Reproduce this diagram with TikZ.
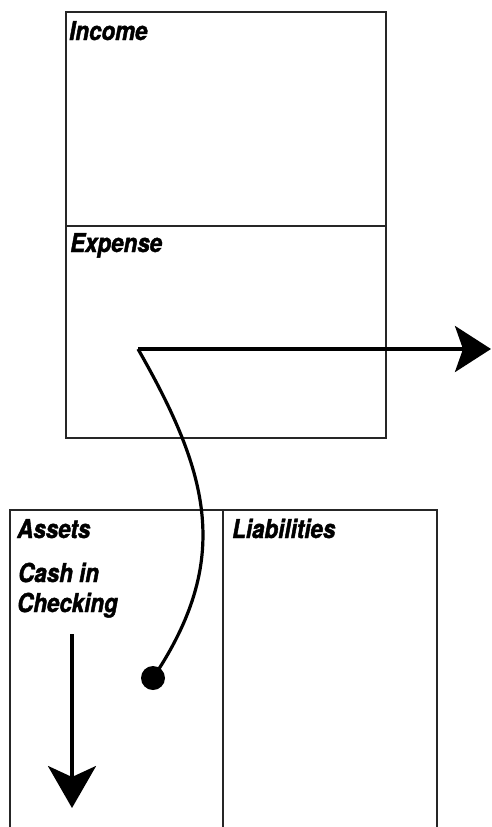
\documentclass[tikz,border=0pt]{standalone}
\usepackage{fontspec}
\setmainfont{TeX Gyre Heros}
\usetikzlibrary{arrows.meta}
\newfontfamily\labfont[FakeStretch=0.86,FakeBold=1.6]{TeX Gyre Heros}
\begin{document}
\begin{tikzpicture}[x=1pt,y=-1pt,
  box/.style={draw=black!85,line width=1.8pt},
  lab/.style={anchor=base west,inner sep=0pt,font=\labfont\fontsize{26}{28}\selectfont\bfseries\itshape},
  flow/.style={line width=3.6pt,black}]
\useasboundingbox (0,0) rectangle (491,827);
% top box
\draw[box] (66,12) rectangle (386,438);
\draw[box] (66,226) -- (386,226);
% bottom boxes
\draw[box] (10,827) -- (10,510) -- (437,510) -- (437,827);
\draw[box] (223,510) -- (223,827);
% labels
\node[lab] (inc) at (69,40) {Income};
\node[lab] (exp) at (70,252) {Expense};
\node[lab] (ast) at (17,538) {Assets};
\node[lab] (lia) at (232,538) {Liabilities};
\node[lab] (cash) at (18,582) {Cash in};
\node[lab] (chk) at (17,612) {Checking};
% flow
\coordinate (s) at (138,349);
\coordinate (e) at (491,349);
\node[circle,fill=black,inner sep=0pt,minimum size=24pt] (dot) at (153,678) {};
\draw[flow,-{Stealth[length=36pt,width=46pt,inset=8pt]}] (s) -- (e);
\draw[line width=3.2pt,line join=miter] (s) .. controls (210,475) and (232,560) .. (dot.center);
\coordinate (ds) at (72,634);
\coordinate (de) at (72,808);
\draw[flow,-{Stealth[length=42pt,width=48pt,inset=11pt]}] (ds) -- (de);
\end{tikzpicture}
\end{document}
